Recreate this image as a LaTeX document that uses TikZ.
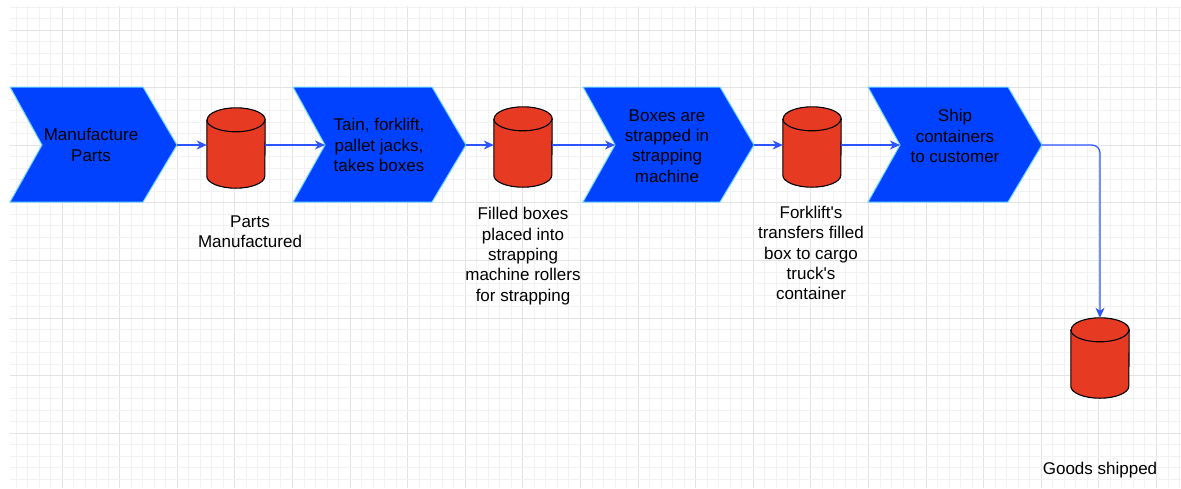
\documentclass[tikz,border=0pt]{standalone}
\usepackage{fontspec}
\setmainfont{Liberation Sans}
\usetikzlibrary{calc,arrows.meta}

\definecolor{chevblue}{RGB}{0,66,255}
\definecolor{chevedge}{RGB}{110,215,255}
\definecolor{tankred}{RGB}{230,58,35}
\definecolor{flowblue}{RGB}{45,85,255}

\begin{document}
\begin{tikzpicture}[x=1pt,y=-1pt,
		chev/.style={fill=chevblue,draw=chevedge,line width=1pt},
		tank/.style={minimum height=80pt,minimum width=58pt,inner sep=0pt},
		tankline/.style={draw=black,line width=1.1pt},
		flow/.style={draw=flowblue,line width=1.2pt,-{Stealth[length=10pt,width=9pt,inset=3pt]}},
		txt/.style={align=center,font=\fontsize{17}{20.3}\selectfont,inner sep=0pt}]
				\useasboundingbox (0,0) rectangle (1181,488);
				% grid
				\foreach \i in {0,...,101}{
					\pgfmathsetmacro\gx{15.9+11.52*\i}
					\pgfmathparse{mod(\i,5)==4 ? "black!11" : "black!5"}
					\draw[\pgfmathresult,line width=0.8pt] (\gx,6) -- (\gx,488);
				}
				\foreach \j in {0,...,41}{
					\pgfmathsetmacro\gy{6.96+11.52*\j}
					\pgfmathparse{mod(\j,5)==2 ? "black!11" : "black!5"}
					\draw[\pgfmathresult,line width=0.8pt] (10,\gy) -- (1181,\gy);
				}
				% process steps
				\foreach \n/\l/\r in {1/10/143, 2/293/432, 3/583/720, 4/868/1008}{
					\coordinate (n\n) at (\l+32,145);
					\coordinate (t\n) at (\r+34,145);
					\draw[chev] (\l,87) -- (\r,87) -- (t\n) -- (\r,202) -- (\l,202) -- (n\n) -- cycle;
				}
				\node[txt] (s1) at (91,145) {Manufacture\\Parts};
				\node[txt] (s2) at (379,145) {Tain, forklift,\\pallet jacks,\\takes boxes};
				\node[txt] (s3) at (667,146) {Boxes are\\strapped in\\strapping\\machine};
				\node[txt] (s4) at (955,136) {Ship\\containers\\to customer};
				% storage
				\node[tank] (c1) at (236,148) {};
				\node[tank] (c2) at (523,147) {};
				\node[tank] (c3) at (812,147) {};
				\node[tank] (c4) at (1100,358) {};
				\foreach \c in {c1,c2,c3,c4}{
					\draw[tankline,fill=tankred] ($(\c.north west)+(0,12)$) -- ($(\c.south west)+(0,-12)$)
						arc (180:0:29 and 12) -- ($(\c.north east)+(0,12)$) arc (0:-180:29 and 12) -- cycle;
					\draw[tankline] ($(\c.north west)+(0,12)$) arc (180:0:29 and 12);
				}
				\node[txt] (l1) at (250,232) {Parts\\Manufactured};
				\node[txt] (l2) at (523,256) {Filled boxes\\placed into\\strapping\\machine rollers\\for strapping};
				\node[txt] (l3) at (811,253) {Forklift\textquotesingle s\\transfers filled\\box to cargo\\truck\textquotesingle s\\container};
				\node[txt] (l4) at (1100,470) {Goods shipped};
				% flow
				\draw[flow] (t1) -- (t1 -| c1.west);
				\draw[flow] (c1.east |- n2) -- (n2);
				\draw[flow] (t2) -- (t2 -| c2.west);
				\draw[flow] (c2.east |- n3) -- (n3);
				\draw[flow] (t3) -- (t3 -| c3.west);
				\draw[flow] (c3.east |- n4) -- (n4);
				\draw[flow,rounded corners=8pt] (t4) -| (c4.north);
			\end{tikzpicture}
\end{document}
